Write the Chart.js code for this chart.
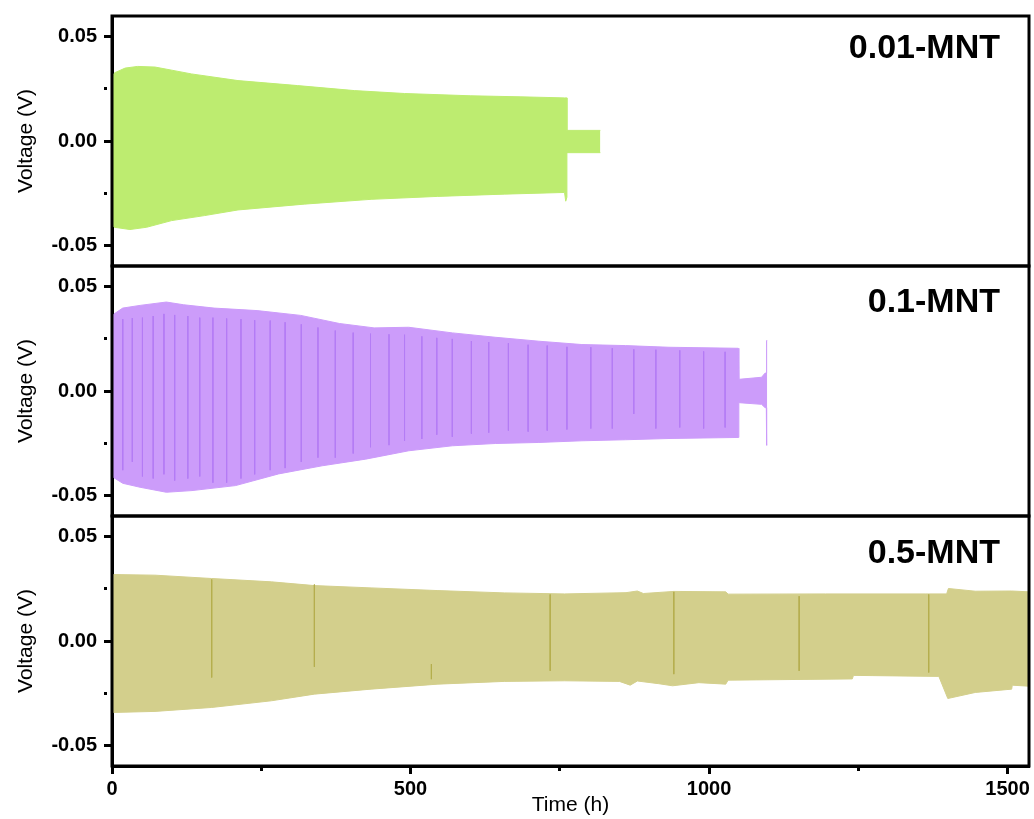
<!DOCTYPE html>
<html>
<head>
<meta charset="utf-8">
<script src="https://cdn.jsdelivr.net/npm/chart.js@4.4.0/dist/chart.umd.min.js"></script>
<style>
body { margin: 0; background: #fff; width: 1034px; height: 819px; position: relative; overflow: hidden; font-family: Arial, "Liberation Sans", sans-serif; }
canvas { position: absolute; left: 0; }
.tag { position: absolute; right: 34px; font-weight: bold; font-size: 34px; line-height: 1; color: #000; }
</style>
</head>
<body>
<canvas id="c1" width="1034" height="270" style="top:0"></canvas>
<canvas id="c2" width="1034" height="270" style="top:250px"></canvas>
<canvas id="c3" width="1034" height="319" style="top:500px"></canvas>
<div class="tag" style="top:29px">0.01-MNT</div>
<div class="tag" style="top:283px">0.1-MNT</div>
<div class="tag" style="top:534px">0.5-MNT</div>
<script>
// axis ticks
const xTicks = [0, 250, 500, 750, 1000, 1250, 1500];
const xLabeled = [0, 500, 1000, 1500];
const yTicks = [-0.05, -0.025, 0, 0.025, 0.05];
const yLabeled = [-0.05, 0, 0.05];

// 0.01-MNT envelope (time h, voltage V)
const t1Up = [0, 4, 22, 43, 72, 100, 133, 211, 311, 406, 490, 601, 685, 758, 762, 762, 818];
const v1Up = [0.0305, 0.0327, 0.0350, 0.0358, 0.0355, 0.0340, 0.0322, 0.0290, 0.0266, 0.0242, 0.0228, 0.0217, 0.0212, 0.0207, 0.0207, 0.0051, 0.0051];
const t1Lo = [0, 4, 30, 58, 100, 155, 211, 322, 434, 545, 657, 758, 760, 762, 762, 818];
const v1Lo = [-0.0405, -0.0414, -0.0425, -0.0414, -0.0382, -0.0358, -0.0331, -0.0303, -0.0280, -0.0266, -0.0255, -0.0247, -0.0289, -0.0270, -0.0056, -0.0056];

// 0.1-MNT envelope
const t2Up = [0, 2, 18, 47, 91, 120, 171, 243, 316, 381, 439, 497, 570, 642, 715, 787, 860, 933, 1049, 1050, 1088, 1094, 1096, 1096.5, 1097.5];
const v2Up = [0.0345, 0.0367, 0.0398, 0.0411, 0.0427, 0.0414, 0.0398, 0.0386, 0.0363, 0.0324, 0.0303, 0.0306, 0.0279, 0.0258, 0.0239, 0.0223, 0.0218, 0.0210, 0.0205, 0.0056, 0.0066, 0.0086, 0.0086, 0.0242, 0.0242];
const t2Lo = [0, 2, 18, 47, 91, 134, 207, 279, 352, 425, 497, 570, 642, 715, 787, 860, 933, 1049, 1050, 1088, 1094, 1096, 1096.5, 1097.5];
const v2Lo = [-0.0395, -0.0414, -0.0443, -0.0462, -0.0486, -0.0478, -0.0454, -0.0398, -0.0359, -0.0327, -0.0287, -0.0263, -0.0252, -0.0247, -0.0239, -0.0234, -0.0228, -0.0223, -0.0056, -0.0064, -0.0080, -0.0080, -0.0260, -0.0260];
// darker vertical traces in the 0.1-MNT band
const s2T = [18, 34, 51, 69, 87, 105, 127, 147, 169, 192, 216, 239, 265, 290, 317, 345, 374, 404, 433, 464, 490, 519, 544, 570, 602, 631, 664, 697, 729, 762, 802, 838, 874, 911, 951, 991, 1027];
const s2Top = [0.0345, 0.0350, 0.0352, 0.0360, 0.0370, 0.0365, 0.0360, 0.0352, 0.0352, 0.0348, 0.0345, 0.0340, 0.0338, 0.0330, 0.0320, 0.0305, 0.0290, 0.0280, 0.0275, 0.0272, 0.0270, 0.0262, 0.0255, 0.0250, 0.0240, 0.0235, 0.0230, 0.0222, 0.0218, 0.0212, 0.0210, 0.0205, 0.0200, 0.0198, 0.0195, 0.0190, 0.0188];
const s2Bot = [-0.0380, -0.0340, -0.0410, -0.0420, -0.0400, -0.0430, -0.0420, -0.0410, -0.0440, -0.0440, -0.0420, -0.0400, -0.0380, -0.0370, -0.0340, -0.0320, -0.0320, -0.0300, -0.0270, -0.0260, -0.0240, -0.0230, -0.0210, -0.0220, -0.0205, -0.0200, -0.0190, -0.0195, -0.0190, -0.0185, -0.0180, -0.0180, -0.0110, -0.0180, -0.0175, -0.0180, -0.0175];

// 0.5-MNT envelope
const t3Up = [0, 2, 72, 167, 267, 339, 434, 546, 657, 758, 861, 880, 890, 941, 1028, 1032, 1195, 1362, 1398, 1401, 1446, 1507, 1536];
const v3Up = [0.0310, 0.0319, 0.0316, 0.0300, 0.0284, 0.0266, 0.0255, 0.0242, 0.0231, 0.0226, 0.0232, 0.0240, 0.0228, 0.0238, 0.0236, 0.0225, 0.0226, 0.0226, 0.0226, 0.0252, 0.0239, 0.0240, 0.0236];
const t3Lo = [0, 2, 72, 167, 267, 339, 434, 546, 657, 758, 850, 868, 880, 916, 939, 983, 1028, 1032, 1240, 1242, 1385, 1400, 1446, 1507, 1508, 1536];
const v3Lo = [-0.0340, -0.0343, -0.0338, -0.0319, -0.0287, -0.0255, -0.0231, -0.0207, -0.0194, -0.0191, -0.0194, -0.0212, -0.0192, -0.0205, -0.0215, -0.0200, -0.0207, -0.0188, -0.0182, -0.0165, -0.0170, -0.0276, -0.0247, -0.0231, -0.0212, -0.0217];
const s3T = [167, 339, 535, 734, 941, 1151, 1368];
const s3Top = [0.0295, 0.0271, -0.0111, 0.0223, 0.0236, 0.0215, 0.0223];
const s3Bot = [-0.0175, -0.0124, -0.0183, -0.0143, -0.0159, -0.0143, -0.0151];

const FONT = 'Arial, "Liberation Sans", sans-serif';
Chart.defaults.font.family = FONT;
Chart.defaults.color = '#000';

const pts = (ts, vs) => ts.map((t, i) => ({ x: t, y: vs[i] }));
const spikes = (ts, tops, bots) => ts.flatMap((t, i) => [{ x: t, y: tops[i] }, { x: t, y: bots[i] }, { x: t, y: null }]);

function band(ts, vs, color) {
    return { data: pts(ts, vs), fill: 'origin', backgroundColor: color, borderColor: color, borderWidth: 1, pointRadius: 0 };
}
function traces(ts, tops, bots, color) {
    return { data: spikes(ts, tops, bots), fill: false, borderColor: color, borderWidth: 1, pointRadius: 0, spanGaps: false };
}

// frame round each panel
const frame = {
    id: 'frame',
    afterDraw(c) {
        const { ctx, chartArea: a } = c;
        ctx.save();
        ctx.strokeStyle = '#000';
        ctx.lineWidth = 3;
        ctx.strokeRect(a.left, a.top, a.right - a.left, a.bottom - a.top);
        ctx.restore();
    }
};

const minorDash = ctx => (ctx.tick && [0, 500, 1000, 1500, -0.05, 0, 0.05].includes(ctx.tick.value)) ? [] : [3, 40];

function makePanel(id, sets, showX) {
    return new Chart(document.getElementById(id), {
        type: 'line',
        data: { datasets: sets },
        options: {
            responsive: false,
            animation: false,
            layout: { padding: { top: 16, right: 5, bottom: showX ? 0 : 4, left: 0 } },
            plugins: { legend: { display: false }, tooltip: { enabled: false } },
            elements: { line: { tension: 0 } },
            scales: {
                x: {
                    type: 'linear', min: 0, max: 1536, display: showX,
                    afterBuildTicks: s => { s.ticks = xTicks.map(v => ({ value: v })); },
                    afterFit: s => { if (showX) { s.height = 53; s.paddingLeft = 0; s.paddingRight = 0; } },
                    border: { display: true, width: 3, color: '#000' },
                    grid: { drawOnChartArea: false, drawTicks: true, tickLength: 8, tickWidth: 3, tickColor: '#000', tickBorderDash: minorDash },
                    ticks: {
                        autoSkip: false, maxRotation: 0, padding: 3,
                        font: { size: 20, weight: 'bold' },
                        callback: v => xLabeled.includes(v) ? String(v) : ''
                    },
                    title: { display: true, text: 'Time (h)', font: { size: 21 }, padding: { top: 0, bottom: 1 } }
                },
                y: {
                    min: -0.06, max: 0.06,
                    afterBuildTicks: s => { s.ticks = yTicks.map(v => ({ value: v })); },
                    afterFit: s => { s.width = 112; s.paddingTop = 0; s.paddingBottom = 0; },
                    border: { display: true, width: 3, color: '#000' },
                    grid: { drawOnChartArea: false, drawTicks: true, tickLength: 8, tickWidth: 3, tickColor: '#000', tickBorderDash: minorDash },
                    ticks: {
                        autoSkip: false, padding: 7,
                        font: { size: 20, weight: 'bold' },
                        callback: v => yLabeled.includes(v) ? v.toFixed(2) : ''
                    },
                    title: { display: true, text: 'Voltage (V)', font: { size: 21 }, padding: { top: 14, bottom: 0 } }
                }
            }
        },
        plugins: [frame]
    });
}

// traces first so they are drawn on top of the bands
makePanel('c1', [
    band(t1Up, v1Up, '#bdec70'),
    band(t1Lo, v1Lo, '#bdec70')
], false);

makePanel('c2', [
    traces(s2T, s2Top, s2Bot, '#b47cf5'),
    band(t2Up, v2Up, '#cc9cfa'),
    band(t2Lo, v2Lo, '#cc9cfa')
], false);

makePanel('c3', [
    traces(s3T, s3Top, s3Bot, '#b5ae4e'),
    band(t3Up, v3Up, '#d3cf8c'),
    band(t3Lo, v3Lo, '#d3cf8c')
], true);
</script>
</body>
</html>
